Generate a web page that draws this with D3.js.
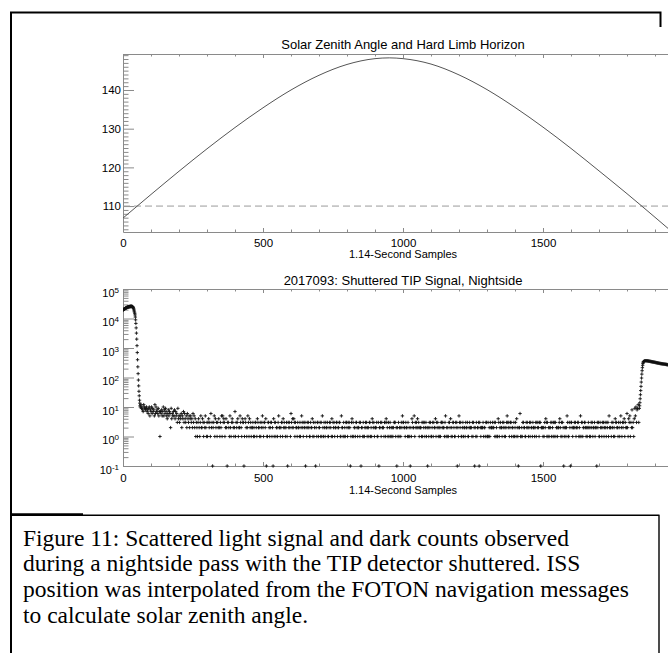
<!DOCTYPE html>
<html>
<head>
<meta charset="utf-8">
<script src="https://cdn.jsdelivr.net/npm/d3@7"></script>
<style>
  html, body { margin: 0; padding: 0; background: #fff; overflow: hidden; }
  svg { display: block; }
</style>
</head>
<body>
<svg id="chart" width="668" height="653"></svg>
<script>
// Values
//
// top panel: solar zenith angle along the pass (deg)
var szaSamples = [0, 100, 200, 300, 400, 500, 600, 700, 800, 900, 951, 1000,
  1100, 1200, 1300, 1400, 1500, 1600, 1700, 1800, 1900, 1960];
var szaDegrees = [106.9, 113.0, 119.0, 124.8, 130.3, 135.4, 140.0, 143.8, 146.6, 148.1, 148.3, 148.1,
  146.7, 143.9, 140.1, 135.5, 130.4, 124.9, 119.1, 113.2, 107.1, 103.4];
var horizonAngle = 110;   // hard limb horizon
var xTicks = [0, 500, 1000, 1500, 2000];
var szaTicks = [110, 120, 130, 140];
var logExponents = [-1, 0, 1, 2, 3, 4, 5];

// bottom panel: shuttered TIP signal
var headStart = 0;   // one value per sample
var headCounts = [19500, 19800, 20100, 20400, 20800, 21100, 21400, 21700, 22000, 22300,
  22600, 22900, 23200, 23400, 23700, 23900, 24100, 24300, 24500, 24700,
  24900, 25000, 25200, 25300, 25400, 25500, 25600, 25600, 25700, 25700,
  25700, 25700, 25600, 25400, 25100, 24600, 23900, 22900, 21500, 19700,
  18000, 16500, 15000, 13200, 11200, 9000, 6800, 4800, 3200, 2000,
  1200, 700, 400, 230, 135, 82, 52, 34, 24, 17, 13.5, 11];

// dark counts, one code every second sample (spaces are only for reading)
var noiseStep = 2;
var noiseStarts = [62, 262, 462, 662, 862, 1062, 1262, 1462, 1662];
var noiseCodes = [
  'ab9a87ba98 9a7869a587 a69785b6a7 8695717685 7a58697546 8576294657 5847563945 3546254736 4352643524 5342635241',
  '3213421352 2431325213 1342316230 2351423132 4213251534 3124203321 5213432127 1323412253 2143301432 1253142312',
  '2312133214 3221312352 1332401133 2123312041 3312213522 1233142321 2310323216 3242431322 1322131253 2132302132',
  '3211322413 1230213312 2313152132 1322311233 2141323122 3312233115 2213121332 1323201341 3122133212 2313022131',
  '1232312213 3121432312 2231130223 1322213314 3213123121 2123331202 1312213253 3221322131 2102143225 1323242312',
  '2213132312 3120213231 1231322413 2312121332 3221351212 1332412133 2113230215 3231123122 1322311232 2213132021',
  '3122303212 2231221331 1312132223 2231312114 3123221323 1212353231 2331221312 3142102261 1213322113 2321231322',
  '1322123132 3213302221 2132431312 1223132131 3312212234 2131320122 1253113203 3212232312 2331215133 1223321212',
  '3212132312 2312203231 1322132312 3213231522 2132312143 3221321352 1323413226 2143513282 31495a389b3'
];
var codeLevels = {'0': 0, '1': 1, '2': 2, '3': 3, '4': 4, '5': 5, '6': 6, '7': 7,
  '8': 8, '9': 9, 'a': 10, 'b': 12};

var riseStart = 1844;   // one value per sample
var riseCounts = [9, 11, 14, 19, 26, 36, 50, 70, 96, 130, 170, 215, 260, 300, 330];
var plateauStart = 1859;   // every second sample
var plateauCounts = [345, 358, 366, 370, 371, 370, 368, 366, 363, 360,
  357, 354, 351, 348, 345, 342, 339, 336, 333, 330,
  327, 324, 321, 318, 315, 312, 309, 306, 303, 300,
  298, 296, 294, 292, 290, 288, 286, 284, 282, 280,
  278, 276, 274, 272, 270, 268, 266, 264, 262, 260,
  258, 256, 254, 252];

var captionLines = [
  'Figure 11: Scattered light signal and dark counts observed',
  'during a nightside pass with the TIP detector shuttered. ISS',
  'position was interpolated from the FOTON navigation messages',
  'to calculate solar zenith angle.'
];

// build the sample list for the scatter
var signal = [];
headCounts.forEach(function(v, i) { signal.push({s: headStart + i, v: v}); });
noiseCodes.forEach(function(code, k) {
  code.replace(/ /g, '').split('').forEach(function(c, i) {
    signal.push({s: noiseStarts[k] + noiseStep * i, v: codeLevels[c]});
  });
});
riseCounts.forEach(function(v, i) { signal.push({s: riseStart + i, v: v}); });
plateauCounts.forEach(function(v, i) { signal.push({s: plateauStart + 2 * i, v: v}); });

var plotFont = '"Liberation Sans", Arial, Helvetica, sans-serif';
var axisColor = '#8a8a8a';

var svg = d3.select('#chart');
svg.append('rect').attr('width', 668).attr('height', 653).attr('fill', '#fff');

var x = d3.scaleLinear().domain([0, 2000]).range([123, 683]);
var yTop = d3.scaleLinear().domain([103.3, 149.3]).range([232, 54]);
var yBot = d3.scaleLog().domain([0.1, 1e5]).range([466, 289]);

var minorX = d3.range(0, 2001, 100).filter(function(v) { return v % 500 !== 0; });
// the 2000 label sits past the page edge
var xLabel = function(d) { return d < 2000 ? d3.format('d')(d) : ''; };

function styleAxis(g, size) {
  g.select('.domain').attr('stroke', axisColor);
  g.selectAll('.tick line').attr('stroke', axisColor);
  g.selectAll('.tick text').attr('fill', '#000')
    .attr('font-family', plotFont).attr('font-size', size || 11.5);
}
function minor(g) {
  g.select('.domain').remove();
  g.selectAll('.tick line').attr('stroke', axisColor);
}

// x axes (bottom with labels, top mirrored) for one panel
function xAxes(yScale, labelPad) {
  var r = yScale.range();
  svg.append('g').attr('transform', 'translate(0,' + r[0] + ')')
    .call(d3.axisBottom(x).tickValues(xTicks).tickSize(-4).tickSizeOuter(0)
      .tickPadding(labelPad).tickFormat(xLabel))
    .call(styleAxis);
  svg.append('g').attr('transform', 'translate(0,' + r[0] + ')')
    .call(d3.axisBottom(x).tickValues(minorX).tickSize(-2.5).tickFormat(''))
    .call(minor);
  svg.append('g').attr('transform', 'translate(0,' + r[1] + ')')
    .call(d3.axisTop(x).tickValues(xTicks).tickSize(-4).tickSizeOuter(0).tickFormat(''))
    .call(styleAxis);
  svg.append('g').attr('transform', 'translate(0,' + r[1] + ')')
    .call(d3.axisTop(x).tickValues(minorX).tickSize(-2.5).tickFormat(''))
    .call(minor);
}

// ---------- top panel ----------
xAxes(yTop, 6.5);
var szaMinor = d3.range(104, 150).filter(function(v) { return v % 10 !== 0; });
svg.append('g').attr('transform', 'translate(' + x(0) + ',0)')
  .call(d3.axisLeft(yTop).tickValues(szaTicks).tickSize(-11).tickSizeOuter(0).tickPadding(2))
  .call(styleAxis);
svg.append('g').attr('transform', 'translate(' + x(0) + ',0)')
  .call(d3.axisLeft(yTop).tickValues(szaMinor).tickSize(-5.5).tickFormat(''))
  .call(minor);

svg.append('clipPath').attr('id', 'clipTop').append('rect')
  .attr('x', x(0)).attr('y', yTop.range()[1])
  .attr('width', x(2000) - x(0)).attr('height', yTop.range()[0] - yTop.range()[1]);

var topData = svg.append('g').attr('clip-path', 'url(#clipTop)');
topData.append('line')
  .attr('x1', x(0)).attr('x2', x(2000))
  .attr('y1', yTop(horizonAngle)).attr('y2', yTop(horizonAngle))
  .attr('stroke', '#9a9a9a').attr('stroke-width', 1).attr('stroke-dasharray', '7,4');
topData.append('path')
  .datum(d3.zip(szaSamples, szaDegrees))
  .attr('fill', 'none').attr('stroke', '#555').attr('stroke-width', 1)
  .attr('d', d3.line()
    .x(function(d) { return x(d[0]); })
    .y(function(d) { return yTop(d[1]); })
    .curve(d3.curveMonotoneX));

svg.append('text').attr('x', (x(0) + x(2000)) / 2).attr('y', 49)
  .attr('text-anchor', 'middle').attr('font-family', plotFont).attr('font-size', 13)
  .text('Solar Zenith Angle and Hard Limb Horizon');
svg.append('text').attr('x', (x(0) + x(2000)) / 2).attr('y', 258)
  .attr('text-anchor', 'middle').attr('font-family', plotFont).attr('font-size', 11)
  .text('1.14-Second Samples');

// ---------- bottom panel ----------
xAxes(yBot, 7.5);
var logMajor = logExponents.map(function(e) { return Math.pow(10, e); });
var logMinor = [];
logExponents.slice(0, -1).forEach(function(e) {
  d3.range(2, 10).forEach(function(m) { logMinor.push(m * Math.pow(10, e)); });
});
var gy = svg.append('g').attr('transform', 'translate(' + x(0) + ',0)')
  .call(d3.axisLeft(yBot).tickValues(logMajor).tickSize(-11).tickSizeOuter(0).tickPadding(4))
  .call(styleAxis, 11);
gy.selectAll('.tick text').each(function(d) {
  var t = d3.select(this).text('').attr('y', 3.5);
  t.append('tspan').text('10');
  t.append('tspan').attr('dy', '-0.5em').attr('font-size', 8)
    .text(Math.round(Math.log10(d)));
});
svg.append('g').attr('transform', 'translate(' + x(0) + ',0)')
  .call(d3.axisLeft(yBot).tickValues(logMinor).tickSize(-5.5).tickFormat(''))
  .call(minor);

svg.append('clipPath').attr('id', 'clipBot').append('rect')
  .attr('x', x(0)).attr('y', yBot.range()[1] - 3)
  .attr('width', x(2000) - x(0)).attr('height', yBot.range()[0] - yBot.range()[1] + 6);

svg.append('g').attr('clip-path', 'url(#clipBot)')
  .selectAll('path').data(signal).enter().append('path')
  .attr('transform', function(d) {
    return 'translate(' + x(d.s) + ',' + yBot(Math.max(d.v, 0.1)) + ')';
  })
  .attr('d', 'M-1.7,0H1.7M0,-1.7V1.7')
  .attr('stroke', '#111').attr('stroke-width', 0.9).attr('fill', 'none');

svg.append('text').attr('x', (x(0) + x(2000)) / 2).attr('y', 285)
  .attr('text-anchor', 'middle').attr('font-family', plotFont).attr('font-size', 13)
  .text('2017093: Shuttered TIP Signal, Nightside');
svg.append('text').attr('x', (x(0) + x(2000)) / 2).attr('y', 494)
  .attr('text-anchor', 'middle').attr('font-family', plotFont).attr('font-size', 11)
  .text('1.14-Second Samples');

// ---------- page frame and caption ----------
var frame = svg.append('g').attr('fill', 'none').attr('stroke', '#000');
frame.append('path').attr('d', 'M10,12.5H661.5M660.5,12V27M11,12V653').attr('stroke-width', 2);
frame.append('path').attr('d', 'M11,514.3H83').attr('stroke-width', 2);
frame.append('path').attr('d', 'M11,515.3H659.5M659,515V653').attr('stroke-width', 1.4);

svg.append('g').selectAll('text').data(captionLines).enter().append('text')
  .attr('x', 23)
  .attr('y', function(d, i) { return 545.5 + i * 25.8; })
  .attr('font-family', '"Liberation Serif", "Times New Roman", serif')
  .attr('font-size', 23.5).attr('fill', '#000')
  .text(function(d) { return d; });
</script>
</body>
</html>
